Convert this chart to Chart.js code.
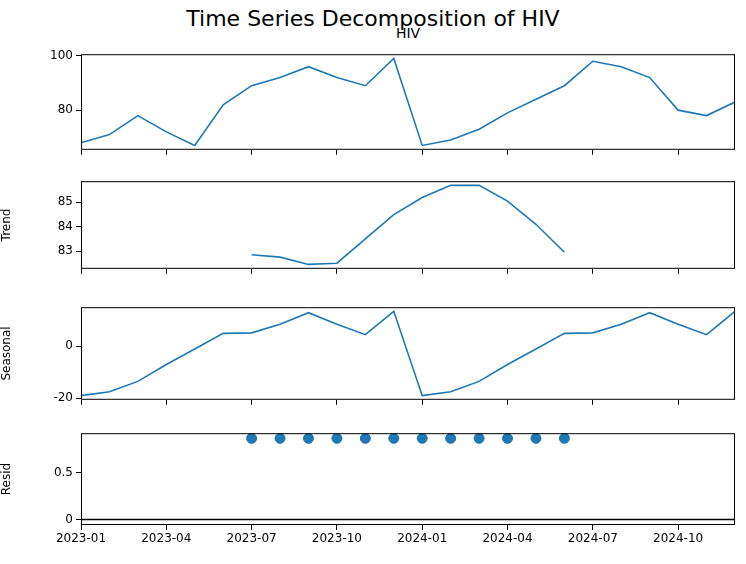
<!DOCTYPE html>
<html>
<head>
<meta charset="utf-8">
<script src="https://cdn.jsdelivr.net/npm/chart.js@4"></script>
<style>
  body { margin: 0; background: #fff; width: 746px; height: 564px; position: relative; overflow: hidden; font-family: 'DejaVu Sans', sans-serif; }
  canvas { position: absolute; left: 0; }
  #title { position: absolute; top: 6px; left: 0; width: 746px; text-align: center; font-size: 22px; color: #000; }
  #sub { position: absolute; top: 25px; left: 81px; width: 654px; text-align: center; font-size: 14px; color: #000; }
</style>
</head>
<body>
<div id="sub">HIV</div>
<div id="title">Time Series Decomposition of HIV</div>
<canvas id="c0"></canvas><canvas id="c1"></canvas><canvas id="c2"></canvas><canvas id="c3"></canvas>
<script>
// ── Data ─────────────────────────────────────────────
const months = ['2023-01','2023-02','2023-03','2023-04','2023-05','2023-06','2023-07','2023-08','2023-09','2023-10','2023-11','2023-12',
                '2024-01','2024-02','2024-03','2024-04','2024-05','2024-06','2024-07','2024-08','2024-09','2024-10','2024-11','2024-12'];
const observed = [68, 71, 78, 72, 67, 82, 89, 92, 96, 92, 89, 99, 67, 69, 73, 79, 84, 89, 98, 96, 92, 80, 78, 83];
const trend = [null, null, null, null, null, null, 82.85, 82.75, 82.45, 82.5, 83.5, 84.5,
               85.2, 85.7, 85.7, 85.05, 84.1, 82.95, null, null, null, null, null, null];
const seasonal = [-19, -17.5, -13.5, -7, -1, 5, 5.2, 8.5, 13, 8.5, 4.5, 13.5,
                  -19, -17.5, -13.5, -7, -1, 5, 5.2, 8.5, 13, 8.5, 4.5, 13.5];
const resid = [null, null, null, null, null, null, 0.865, 0.865, 0.865, 0.865, 0.865, 0.865,
               0.865, 0.865, 0.865, 0.865, 0.865, 0.865, null, null, null, null, null, null];
const xLabelIdx = [0, 3, 6, 9, 12, 15, 18, 21];

const BLUE = '#1f77b4';
const FONT = { family: "'DejaVu Sans', sans-serif", size: 12 };

// ── Panels ───────────────────────────────────────────
const panels = [
  { id: 'c0', top: 44, h: 108, data: observed, label: '', yMin: 65.4, yMax: 100.6, yTicks: [80, 100] },
  { id: 'c1', top: 171, h: 100, data: trend, label: 'Trend', yMin: 82.27, yMax: 85.87, yTicks: [83, 84, 85] },
  { id: 'c2', top: 297, h: 105, data: seasonal, label: 'Seasonal', yMin: -20.6, yMax: 15.1, yTicks: [-20, 0] },
  { id: 'c3', top: 423, h: 102, data: resid, label: 'Resid', yMin: -0.06, yMax: 0.92, yTicks: [0, 0.5], last: true }
];

const boxPlugin = {
  id: 'box',
  afterDraw(chart) {
    const a = chart.chartArea, ctx = chart.ctx;
    ctx.save();
    ctx.strokeStyle = '#000';
    ctx.lineWidth = 1;
    ctx.strokeRect(a.left + 0.5, a.top + 0.5, a.right - a.left - 1, a.bottom - a.top - 1);
    ctx.restore();
  }
};

function pts(arr) { return arr.map((v, i) => ({ x: i, y: v })); }

panels.forEach(p => {
  const xh = p.last ? 28 : 8;
  const cv = document.getElementById(p.id);
  cv.style.top = p.top + 'px';
  cv.width = 746;
  cv.height = p.h + xh;
  cv.style.width = '746px';
  cv.style.height = (p.h + xh) + 'px';

  const datasets = p.last ? [
    { type: 'line', data: [{ x: 0, y: 0 }, { x: 23, y: 0 }], borderColor: '#000', borderWidth: 1.5, pointRadius: 0 },
    { type: 'scatter', data: pts(p.data).filter(d => d.y !== null), backgroundColor: BLUE, borderColor: BLUE, pointRadius: 5 }
  ] : [
    { type: 'line', data: pts(p.data), borderColor: BLUE, borderWidth: 1.6, pointRadius: 0, spanGaps: false, tension: 0 }
  ];

  new Chart(cv, {
    type: 'line',
    data: { datasets },
    options: {
      responsive: false,
      animation: false,
      devicePixelRatio: 1,
      layout: { padding: { left: 0, right: 11, top: 0, bottom: 0 } },
      plugins: { legend: { display: false }, tooltip: { enabled: false } },
      scales: {
        x: {
          type: 'linear', min: 0, max: 23,
          afterBuildTicks: s => { s.ticks = xLabelIdx.map(v => ({ value: v })); },
          afterFit: s => { s.height = xh; },
          grid: { drawOnChartArea: false, color: '#000', tickLength: 5 },
          border: { display: false },
          ticks: { display: !!p.last, color: '#000', font: FONT, padding: 2, maxRotation: 0,
                   callback: v => months[v] }
        },
        y: {
          min: p.yMin, max: p.yMax,
          afterBuildTicks: s => { s.ticks = p.yTicks.map(v => ({ value: v })); },
          afterFit: s => { s.width = 81; },
          grid: { drawOnChartArea: false, color: '#000', tickLength: 5 },
          border: { display: false },
          title: { display: !!p.label, text: p.label, color: '#000', font: FONT, padding: 0 },
          ticks: { color: '#000', font: FONT, padding: 3 }
        }
      }
    },
    plugins: [boxPlugin]
  });
});
</script>
</body>
</html>
